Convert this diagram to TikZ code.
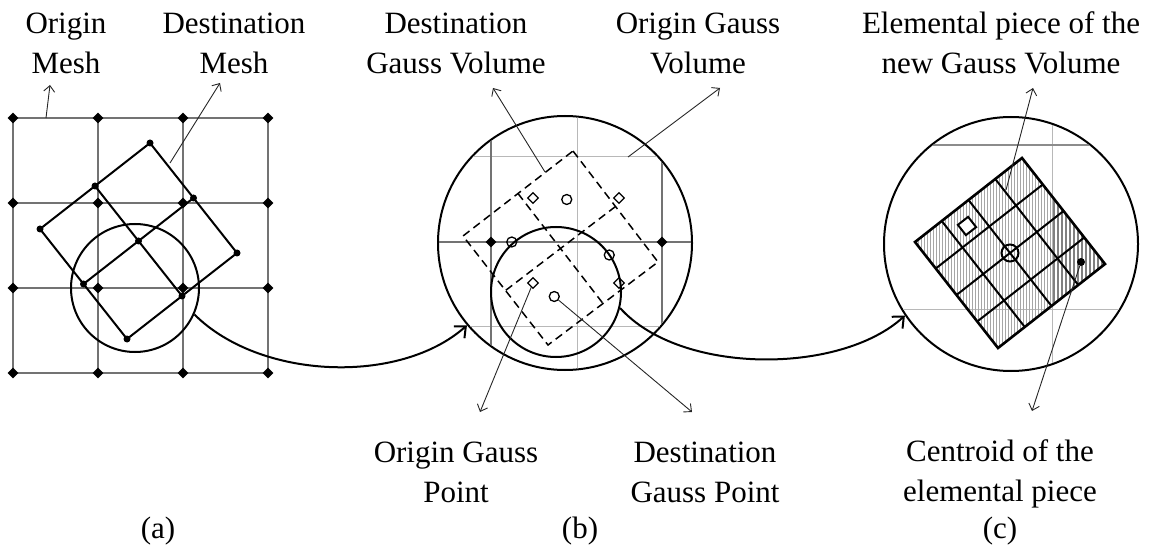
\documentclass[tikz,border=0pt]{standalone}
\usepackage{fontspec}
\setmainfont{Liberation Serif}
\usetikzlibrary{calc,shapes.geometric,arrows.meta}

\tikzset{
  lbl/.style={font=\fontsize{31}{40}\selectfont,align=center,inner sep=0pt},
  gline/.style={draw=black!55,line width=1.3pt},
  faint/.style={draw=black!28,line width=0.7pt},
  mesh/.style={draw=black,line width=2pt},
  dest/.style={draw=black,line width=1.5pt,dash pattern=on 8pt off 5pt},
  piece/.style={draw=black,line width=2pt},
  hatch/.style={draw=black!35,line width=0.9pt},
  hatchdark/.style={draw=black!50,line width=1.1pt},
  lens/.style={circle,draw,line width=2pt,inner sep=0pt},
  gdot/.style={diamond,fill,inner sep=0pt,minimum size=11pt},
  mdot/.style={circle,fill,inner sep=0pt,minimum size=7pt},
  origp/.style={diamond,draw,line width=1.2pt,inner sep=0pt,minimum size=11pt},
  destp/.style={circle,draw,line width=1.3pt,inner sep=0pt,minimum size=10pt},
  pointer/.style={->,line width=0.9pt,black!85},
  zoomarrow/.style={-{Straight Barb[length=9pt,width=16pt]},line width=2pt},
}

\begin{document}
\begin{tikzpicture}[x=1pt,y=-1pt,>={Straight Barb[length=6pt,width=11pt]}]
\useasboundingbox (0,0) rectangle (1151,545);

% (a) origin mesh and destination mesh
\foreach \i in {0,...,3} {
  \draw[gline] (13+85*\i,118) -- (13+85*\i,373);
  \draw[gline] (13,118+85*\i) -- (268,118+85*\i);
}
\foreach \i in {0,...,3}
  \foreach \j in {0,...,3}
    \node[gdot] (o\i\j) at (13+85*\i,118+85*\j) {};

\coordinate (aT) at (150,143);
\coordinate (aR) at (237,253);
\coordinate (aB) at (127,339);
\coordinate (aL) at (40,229);
\coordinate (aTR) at ($(aT)!.5!(aR)$);
\coordinate (aRB) at ($(aR)!.5!(aB)$);
\coordinate (aBL) at ($(aB)!.5!(aL)$);
\coordinate (aLT) at ($(aL)!.5!(aT)$);
\coordinate (aM) at ($(aT)!.5!(aB)$);
\draw[mesh] (aT) -- (aR) -- (aB) -- (aL) -- cycle;
\draw[mesh] (aTR) -- (aBL) (aLT) -- (aRB);
\foreach \c in {aT,aR,aB,aL,aTR,aRB,aBL,aLT,aM}
  \node[mdot] at (\c) {};
\node[lens,minimum size=128pt] (lensA) at (135,288) {};

% (b) Gauss volumes
\node[lens,minimum size=254pt] (bigB) at (565,243) {};
\begin{scope}
  \clip (565,243) circle[radius=126];
  \draw[faint] (577,100) -- (577,390) (420,156) -- (662,156) (420,326) -- (662,326);
  \draw[gline] (491,100) -- (491,390) (662,100) -- (662,390) (420,242) -- (710,242);
\end{scope}
\node[gdot] (bW) at (491,242) {};
\node[gdot] (bE) at (662,242) {};

\coordinate (bT) at (573,151);
\coordinate (bR) at (658,262);
\coordinate (bB) at (548,345);
\coordinate (bL) at (463,236);
\coordinate (bM) at ($(bT)!.5!(bB)$);
\draw[dest] (bT) -- (bR) -- (bB) -- (bL) -- cycle;
\draw[dest] ($(bT)!.5!(bR)$) -- ($(bL)!.5!(bB)$) ($(bT)!.5!(bL)$) -- ($(bR)!.5!(bB)$);

\node[origp] (ogp1) at (533,198) {};
\node[origp] (ogp2) at (619,198) {};
\node[origp] (ogp3) at (533,283) {};
\node[origp] (ogp4) at (619,283) {};
\node[destp] (dgp1) at ($(bM)!.5!(bT)$) {};
\node[destp] (dgp2) at ($(bM)!.5!(bR)$) {};
\node[destp] (dgp3) at ($(bM)!.5!(bL)$) {};
\node[destp] (dgp4) at ($(bM)!.5!(bB)$) {};
\node[lens,minimum size=130pt] (lensB) at (556,292) {};

% (c) elemental pieces
\node[lens,minimum size=254pt] (bigC) at (1011,244) {};
\begin{scope}
  \clip (1011,244) circle[radius=126];
  \draw[faint] (1052,100) -- (1052,390) (880,309) -- (1140,309);
  \draw[gline,draw=black!45] (880,145) -- (1140,145);
\end{scope}

\coordinate (cT) at (1022,158);
\coordinate (cR) at (1105,264);
\coordinate (cB) at (998,348);
\coordinate (cL) at (915,242);
\coordinate (cM) at ($(cT)!.5!(cB)$);
\begin{scope}
  \clip (cT) -- (cR) -- (cB) -- (cL) -- cycle;
  \foreach \x in {912,915,...,1052}
    \draw[hatch] (\x,150) -- (\x,355);
  \foreach \x in {1054,1058,...,1110}
    \draw[hatchdark] (\x,150) -- (\x,355);
\end{scope}
\foreach \k in {1,2,3}
  \draw[piece] ($(cT)!\k/4!(cR)$) -- ($(cL)!\k/4!(cB)$)
               ($(cT)!\k/4!(cL)$) -- ($(cR)!\k/4!(cB)$);
\draw[piece,line width=2.6pt] (cT) -- (cR) -- (cB) -- (cL) -- cycle;

\node[draw,fill=white,line width=2pt,inner sep=0pt,minimum size=13pt,rotate=38] (csq) at (967,226) {};
\node[circle,draw,line width=2pt,inner sep=0pt,minimum size=17pt] (ccir) at (cM) {};
\node[mdot,minimum size=8pt] (cdot) at (1081,262) {};

% zoom arrows
\draw[zoomarrow] (lensA.-24) .. controls (260,380) and (400,385) .. (bigB.220);
\draw[zoomarrow] (lensB.-14) .. controls (680,375) and (840,375) .. (bigC.214);

% labels
\node[lbl] (omesh) at (66,43) {Origin\\Mesh};
\node[lbl] (dmesh) at (234,43) {Destination\\Mesh};
\node[lbl] (dgv) at (456,43) {Destination\\Gauss Volume};
\node[lbl] (ogv) at (698,43) {Origin Gauss\\Volume};
\node[lbl] (epiece) at (1001,43) {Elemental piece of the\\new Gauss Volume};
\node[lbl] (ogpt) at (456,472) {Origin Gauss\\Point};
\node[lbl] (dgpt) at (705,472) {Destination\\Gauss Point};
\node[lbl] (cent) at (1000,474) {Centroid of the\\elemental piece};
\node[lbl,anchor=base] (capA) at (158,538) {(a)};
\node[lbl,anchor=base] (capB) at (580,538) {(b)};
\node[lbl,anchor=base] (capC) at (1000,538) {(c)};

\coordinate (omeshFoot) at (46,118);
\coordinate (omeshTip) at (50,85);
\coordinate (dmeshFoot) at (170,163);
\coordinate (dmeshTip) at (220,83);
\coordinate (dgvFoot) at (545,172);
\coordinate (dgvTip) at (493,88);
\coordinate (ogvFoot) at (628,157);
\coordinate (ogvTip) at (720,88);
\coordinate (ogptTip) at (480,412);
\coordinate (dgptTip) at (692,412);
\coordinate (epieceFoot) at (1006,190);
\coordinate (epieceTip) at (1033,88);
\coordinate (centTip) at (1032,411);

\draw[pointer] (omeshFoot) -- (omeshTip);
\draw[pointer] (dmeshFoot) -- (dmeshTip);
\draw[pointer] (dgvFoot) -- (dgvTip);
\draw[pointer] (ogvFoot) -- (ogvTip);
\draw[pointer] (ogp3) -- (ogptTip);
\draw[pointer] (dgp4) -- (dgptTip);
\draw[pointer] (epieceFoot) -- (epieceTip);
\draw[pointer] (cdot) -- (centTip);
\end{tikzpicture}
\end{document}
